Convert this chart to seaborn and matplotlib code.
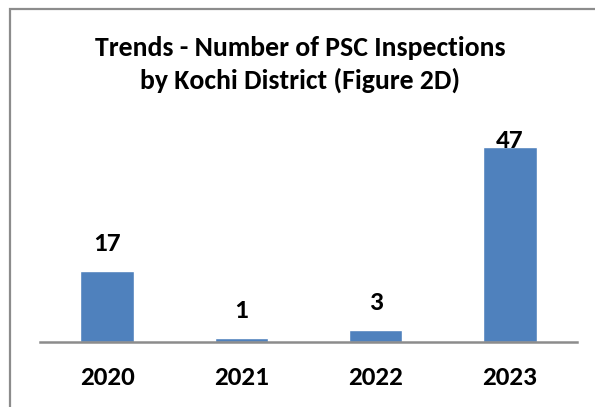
import matplotlib
matplotlib.use("Agg")
import matplotlib.pyplot as plt
import seaborn as sns
import pandas as pd
from matplotlib.patches import Rectangle

years = ["2020", "2021", "2022", "2023"]
inspections = [17, 1, 3, 47]
title_text = "Trends - Number of PSC Inspections\nby Kochi District (Figure 2D)"

sns.set_theme(style="white")
plt.rcParams['font.family'] = ['Carlito', 'DejaVu Sans']

W, H, DPI = 595, 407, 100
fig = plt.figure(figsize=(W / DPI, H / DPI), dpi=DPI)

# outer chart frame (extends past right and bottom edges)
fig.patches.append(Rectangle((10 / W, -0.1), 1.2, (H - 9) / H + 0.1,
                             transform=fig.transFigure, fill=False,
                             edgecolor="#8c8c8c", linewidth=1.6))

ax_left, ax_right = 40.2, 576.8
ax_top, ax_bottom = 130, 342
ax = fig.add_axes([ax_left / W, (H - ax_bottom) / H,
                   (ax_right - ax_left) / W, (ax_bottom - ax_top) / H])

df = pd.DataFrame({"year": years, "n": inspections})
sns.barplot(data=df, x="year", y="n", ax=ax, color="#4F81BD",
            saturation=1, width=0.40)
ymax = 51
ax.set_ylim(0, ymax)
ax.set_xlim(-0.5, len(years) - 0.5)

for s in ["top", "right", "left"]:
    ax.spines[s].set_visible(False)
ax.spines["bottom"].set_color("#8c8c8c")
ax.spines["bottom"].set_linewidth(1.8)
ax.set_yticks([])
ax.set_xlabel("")
ax.set_ylabel("")
ax.tick_params(axis="x", length=0, pad=17)
FS = 19.5
for lab in ax.get_xticklabels():
    lab.set_fontsize(FS)
    lab.set_fontweight("bold")
    lab.set_color("black")

# value labels
ppu = (ax_bottom - ax_top) / ymax
pad_px = 16
label_h = 17
for i, v in enumerate(inspections):
    top_px = v * ppu + pad_px + label_h
    if top_px > (ax_bottom - ax_top):
        ax.annotate(str(v), (i, ymax), xytext=(0, 1), textcoords="offset points",
                    ha="center", va="top", fontsize=FS, fontweight="bold",
                    color="black")
    else:
        ax.annotate(str(v), (i, v), xytext=(0, pad_px * 72 / DPI),
                    textcoords="offset points", ha="center", va="bottom",
                    fontsize=FS, fontweight="bold", color="black")

fig.text(300 / W, 1 - 36 / H, title_text, ha="center", va="top",
         fontsize=20, fontweight="bold", linespacing=1.36, color="black")

fig.savefig("out.png", dpi=DPI)
